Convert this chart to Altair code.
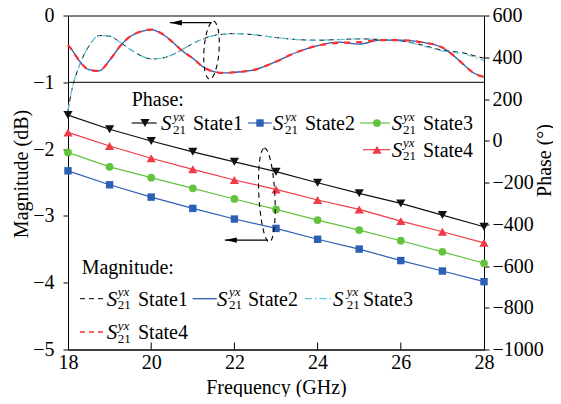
import altair as alt
import pandas as pd

# ---------------- data ----------------
states = ["State1", "State2", "State3", "State4"]

freq_phase = [18, 19, 20, 21, 22, 23, 24, 25, 26, 27, 28]
phase_state1 = [123, 55, -1, -53, -101, -148, -201, -252, -300, -356, -412]
phase_state2 = [-144, -211, -270, -324, -375, -420, -472, -519, -574, -624, -675]
phase_state3 = [-56, -125, -177, -228, -279, -329, -380, -428, -479, -532, -587]
phase_state4 = [40, -25, -84, -137, -188, -233, -284, -329, -385, -436, -489]

freq_mag = [18.0, 18.1, 18.25, 18.5, 18.75, 19.0, 19.25, 19.5, 19.75, 20.0, 20.25,
            20.5, 20.75, 21.0, 21.25, 21.5, 21.75, 22.0, 22.5, 23.0, 23.5, 24.0,
            24.5, 25.0, 25.5, 26.0, 26.5, 27.0, 27.25, 27.5, 27.75, 28.0]
mag_state1 = [-1.42, -1.09, -0.79, -0.46, -0.30, -0.31, -0.40, -0.51, -0.60, -0.65, -0.64,
              -0.59, -0.51, -0.42, -0.35, -0.30, -0.28, -0.27, -0.29, -0.33, -0.36, -0.37,
              -0.36, -0.35, -0.36, -0.38, -0.44, -0.52, -0.54, -0.56, -0.60, -0.64]
mag_state2 = [-0.44, -0.52, -0.66, -0.81, -0.83, -0.67, -0.46, -0.31, -0.24, -0.21, -0.27,
              -0.39, -0.53, -0.64, -0.77, -0.84, -0.86, -0.85, -0.81, -0.69, -0.55, -0.45,
              -0.40, -0.43, -0.37, -0.37, -0.40, -0.48, -0.59, -0.73, -0.86, -0.92]
mag_state3 = [-1.42, -1.09, -0.79, -0.46, -0.30, -0.31, -0.40, -0.51, -0.60, -0.65, -0.64,
              -0.59, -0.51, -0.42, -0.35, -0.30, -0.28, -0.27, -0.29, -0.33, -0.36, -0.37,
              -0.36, -0.35, -0.36, -0.38, -0.45, -0.53, -0.55, -0.57, -0.62, -0.68]
mag_state4 = [-0.44, -0.52, -0.66, -0.81, -0.83, -0.67, -0.46, -0.31, -0.24, -0.21, -0.27,
              -0.39, -0.53, -0.64, -0.77, -0.84, -0.86, -0.85, -0.81, -0.69, -0.55, -0.45,
              -0.41, -0.40, -0.37, -0.37, -0.40, -0.48, -0.59, -0.73, -0.86, -0.92]

x_ticks = [18, 20, 22, 24, 26, 28]
mag_ticks = [-5, -4, -3, -2, -1, 0]
phase_ticks = [-1000, -800, -600, -400, -200, 0, 200, 400, 600]

# annotation anchors (data coordinates)
mag_ellipse = {"f": [21.45], "v": [-0.52]}
mag_arrow = {"f0": [20.45], "f1": [21.45], "v": [-0.108]}
ph_ellipse = {"f": [22.78], "v": [-260]}
ph_arrow = {"f0": [21.77], "f1": [22.81], "v": [-476]}
mag_divider = [-1]

# ---------------- styling ----------------
FONT = "'Liberation Serif', 'Times New Roman', 'DejaVu Serif', serif"
W, H = 416, 334

xscale = alt.Scale(domain=[18, 28], nice=False, zero=False)
mag_scale = alt.Scale(domain=[-5, 0], nice=False, zero=False)
ph_scale = alt.Scale(domain=[-1000, 600], nice=False, zero=False)

x_axis = alt.Axis(values=x_ticks, ticks=False, labelPadding=3, title="Frequency (GHz)",
                  titleY=44, titleBaseline="alphabetic", labelFlush=False,
                  labelOverlap=False, format="d")
mag_axis = alt.Axis(values=mag_ticks, orient="left", tickSize=5, labelPadding=9,
                    title="Magnitude (dB)", titleAngle=270, titleX=-47, titleY=158,
                    titleBaseline="middle", titleAlign="center", format="d",
                    labelFlush=False, labelOverlap=False)
ph_axis = alt.Axis(values=phase_ticks, orient="right", tickSize=5, labelPadding=3,
                   title="Phase (°)", titleAngle=270, titleX=60, titleY=144.5,
                   titleBaseline="middle", titleAlign="center", format="d",
                   labelFlush=False, labelOverlap=False)


def X(field):
    return alt.X(field, type="quantitative", scale=xscale, axis=x_axis)


def YM(field):
    return alt.Y(field, type="quantitative", scale=mag_scale, axis=mag_axis)


def YP(field):
    return alt.Y(field, type="quantitative", scale=ph_scale, axis=ph_axis)


def ellipse_path(a):
    k = 0.5523
    ak = a * k
    return (f"M0,-1C{ak:.4f},-1 {a:.4f},-{k} {a:.4f},0C{a:.4f},{k} {ak:.4f},1 0,1"
            f"C-{ak:.4f},1 -{a:.4f},{k} -{a:.4f},0C-{a:.4f},-{k} -{ak:.4f},-1 0,-1Z")


ARROW = "M0,0L2,-0.45L2,0.45Z"
ONE = pd.DataFrame({"d": [0]})

mag_style = {
    "State1": dict(color="#000000", strokeWidth=1.0, strokeDash=[5, 4]),
    "State3": dict(color="#5cc6da", strokeWidth=1.2, strokeDash=[7, 3, 1.5, 3]),
    "State2": dict(color="#2b5cad", strokeWidth=1.3),
    "State4": dict(color="#ff2f2f", strokeWidth=2.2, strokeDash=[6, 6]),
}
ph_style = {
    "State1": ("#111111", "triangle-down", 85),
    "State2": ("#2d5fb4", "square", 55),
    "State3": ("#63c33e", "circle", 60),
    "State4": ("#ef3b47", "triangle-up", 85),
}

mag_df = pd.DataFrame({"f": freq_mag, "State1": mag_state1, "State2": mag_state2,
                       "State3": mag_state3, "State4": mag_state4})
ph_df = pd.DataFrame({"f": freq_phase, "State1": phase_state1, "State2": phase_state2,
                      "State3": phase_state3, "State4": phase_state4})

# ---------------- magnitude group (left axis) ----------------
mag_layers = []
mag_layers.append(
    alt.Chart(pd.DataFrame({"v": mag_divider})).mark_rule(color="black", strokeWidth=1)
    .encode(y=YM("v"))
)
for s in ["State1", "State3", "State2", "State4"]:
    mag_layers.append(
        alt.Chart(mag_df).mark_line(interpolate="monotone", **mag_style[s])
        .encode(x=X("f"), y=YM(s))
    )
mag_layers.append(
    alt.Chart(pd.DataFrame(mag_ellipse)).mark_point(
        shape=ellipse_path(0.26), size=3364, filled=False, color="black",
        strokeWidth=1.1, strokeDash=[5, 4], angle=4, opacity=1)
    .encode(x=X("f"), y=YM("v"))
)
mag_layers.append(
    alt.Chart(pd.DataFrame(mag_arrow)).mark_rule(color="black", strokeWidth=1.2)
    .encode(x=X("f0"), x2="f1", y=YM("v"))
)
mag_layers.append(
    alt.Chart(pd.DataFrame(mag_arrow)).mark_point(
        shape=ARROW, size=144, filled=True, color="black", opacity=1)
    .encode(x=X("f0"), y=YM("v"))
)
mag_group = alt.layer(*mag_layers)

# ---------------- phase group (right axis) ----------------
ph_layers = []
for s in states:
    col, shp, sz = ph_style[s]
    ph_layers.append(
        alt.Chart(ph_df).mark_line(color=col, strokeWidth=1.2).encode(x=X("f"), y=YP(s))
    )
    ph_layers.append(
        alt.Chart(ph_df).mark_point(shape=shp, size=sz, filled=True, color=col, opacity=1)
        .encode(x=X("f"), y=YP(s))
    )
# inward bottom ticks
ph_layers.append(
    alt.Chart(pd.DataFrame({"t": x_ticks[1:-1]})).mark_rule(color="black", strokeWidth=1)
    .encode(x=X("t"), y=alt.value(H), y2=alt.value(H - 7))
)
ph_layers.append(
    alt.Chart(pd.DataFrame(ph_ellipse)).mark_point(
        shape=ellipse_path(0.17), size=8836, filled=False, color="black",
        strokeWidth=1.1, strokeDash=[5, 4], angle=357, opacity=1)
    .encode(x=X("f"), y=YP("v"))
)
ph_layers.append(
    alt.Chart(pd.DataFrame(ph_arrow)).mark_rule(color="black", strokeWidth=1.2)
    .encode(x=X("f0"), x2="f1", y=YP("v"))
)
ph_layers.append(
    alt.Chart(pd.DataFrame(ph_arrow)).mark_point(
        shape=ARROW, size=144, filled=True, color="black", opacity=1)
    .encode(x=X("f0"), y=YP("v"))
)

# ---------------- legends ----------------
# (line x0, line x1, marker x, S x, sub x, label x, y)
ph_leg_pos = {
    "State1": (63.7, 88.7, 77, 93, 105, 125, 107.5),
    "State2": (180, 203.7, 192, 205, 217, 237, 107.5),
    "State3": (292, 322, 309, 323.7, 335, 355, 107.5),
    "State4": (295, 322, 309, 323.7, 335, 355, 134.2),
}
mag_leg_pos = {
    "State1": (12, 37, None, 38.7, 49.7, 70, 283.2),
    "State2": (124.7, 148.7, None, 149, 161, 180, 283.2),
    "State3": (237, 263.7, None, 265, 278.7, 295, 283.2),
    "State4": (12, 37, None, 38.7, 49.7, 70, 316.5),
}

s_rows, sup_rows, sub_rows, lab_rows = [], [], [], []
head_rows = [{"px": 63.7, "py": 84.5, "t": "Phase:"},
             {"px": 13.7, "py": 252.5, "t": "Magnitude:"}]

for s in states:
    col, shp, sz = ph_style[s]
    x0, x1, xm, xs, xsub, xl, y = ph_leg_pos[s]
    ph_layers.append(
        alt.Chart(ONE).mark_rule(color=col, strokeWidth=1.2)
        .encode(x=alt.value(x0), x2=alt.value(x1), y=alt.value(y))
    )
    ph_layers.append(
        alt.Chart(ONE).mark_point(shape=shp, size=sz, filled=True, color=col, opacity=1)
        .encode(x=alt.value(xm), y=alt.value(y))
    )
    s_rows.append({"px": xs, "py": y + 1, "t": "S"})
    sup_rows.append({"px": xsub, "py": y - 6.5, "t": "yx"})
    sub_rows.append({"px": xsub, "py": y + 6.5, "t": "21"})
    lab_rows.append({"px": xl, "py": y + 1, "t": s})

for s in states:
    x0, x1, _, xs, xsub, xl, y = mag_leg_pos[s]
    st = dict(mag_style[s])
    if s == "State4":
        st["strokeWidth"] = 1.6
        st["strokeDash"] = [5, 4]
    ph_layers.append(
        alt.Chart(ONE).mark_rule(**st)
        .encode(x=alt.value(x0), x2=alt.value(x1), y=alt.value(y))
    )
    s_rows.append({"px": xs, "py": y + 1, "t": "S"})
    sup_rows.append({"px": xsub, "py": y - 6.5, "t": "yx"})
    sub_rows.append({"px": xsub, "py": y + 6.5, "t": "21"})
    lab_rows.append({"px": xl, "py": y + 1, "t": s})


def text_layer(rows, **kw):
    return alt.Chart(pd.DataFrame(rows)).mark_text(
        font=FONT, align="left", baseline="middle", color="black", **kw
    ).encode(
        x=alt.X("px:Q", scale=None, axis=None),
        y=alt.Y("py:Q", scale=None, axis=None),
        text="t:N",
    )


ph_layers.append(text_layer(head_rows, fontSize=20))
ph_layers.append(text_layer(s_rows, fontSize=21, fontStyle="italic"))
ph_layers.append(text_layer(sup_rows, fontSize=13, fontStyle="italic"))
ph_layers.append(text_layer(sub_rows, fontSize=13))
ph_layers.append(text_layer(lab_rows, fontSize=20))

ph_group = alt.layer(*ph_layers)

chart = (
    alt.layer(mag_group, ph_group)
    .resolve_scale(y="independent")
    .properties(
        width=W, height=H,
        autosize=alt.AutoSizeParams(type="none"),
        padding={"left": 60, "top": 7.5, "right": 69, "bottom": 47},
    )
    .configure_view(stroke="black", strokeWidth=1)
    .configure_axis(
        domainColor="black", tickColor="black", labelColor="black", titleColor="black",
        labelFont=FONT, titleFont=FONT, labelFontSize=20, titleFontSize=20,
        titleFontWeight="normal", grid=False, domainWidth=1, tickWidth=1,
    )
)

chart.save("out.html", embed_options={"renderer": "svg", "actions": False})
